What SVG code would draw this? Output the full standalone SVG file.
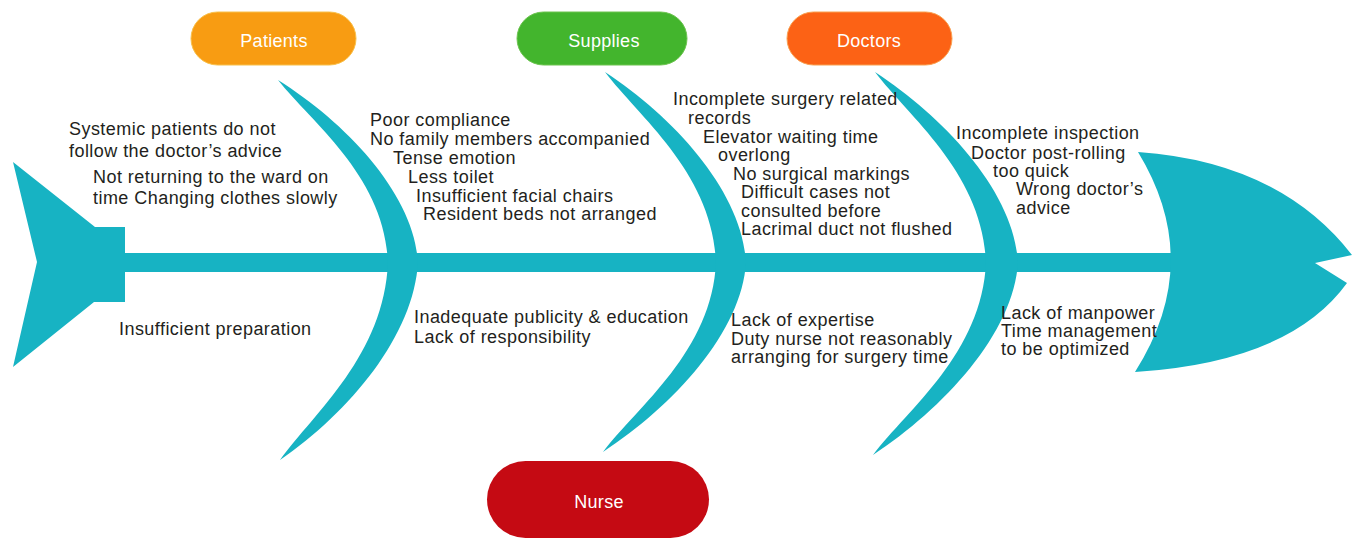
<svg xmlns="http://www.w3.org/2000/svg" width="1355" height="538" viewBox="0 0 1355 538">
  <style>
    .fish { fill: #17B3C3; }
    .pill-label { font-family: "Liberation Sans", Arial, sans-serif; font-size: 18px; letter-spacing: 0.3px; fill: #ffffff; text-anchor: middle; }
    .cause { font-family: "Liberation Sans", Arial, sans-serif; font-size: 18px; letter-spacing: 0.45px; fill: #231F20; }
  </style>
  <rect width="1355" height="538" fill="#ffffff"/>

  <!-- fish skeleton: tail, spine, head and the curved ribs -->
  <g id="connectors">
    <polygon id="tail" class="fish" points="13,162 95,227 125,227 125,302 94,302 13,367 37,262"/>
    <rect id="spine" class="fish" x="120" y="253" width="1055" height="19"/>
    <path id="head" class="fish" d="M1138,152 Q1280,162 1352,255 L1315,263 L1347,283 Q1290,362 1135,372 Q1205,262 1138,152 Z"/>
    <path id="rib-patients-nurse" class="fish" d="M278,80 C348,124 414,195 418,262 C414,335 350,412 280,460 C315,412 384,355 388,262 C384,176 313,124 278,80 Z"/>
    <path id="rib-supplies-nurse" class="fish" d="M605,72 C675,118 742,192 746,262 C742,332 673,406 603,452 C638,406 712,351 716,262 C712,173 640,118 605,72 Z"/>
    <path id="rib-doctors" class="fish" d="M875,72 C945,118 1014,192 1018,262 C1014,333 943,409 873,455 C908,409 982,353 986,262 C982,173 910,118 875,72 Z"/>
  </g>

  <!-- category labels -->
  <g id="node-patients">
    <rect x="191" y="12" width="165" height="53" rx="26.5" fill="#F89C12" stroke="#F8C04A" stroke-width="1"/>
    <text class="pill-label" x="274" y="47">Patients</text>
  </g>
  <g id="node-supplies">
    <rect x="517" y="12" width="170" height="53" rx="26.5" fill="#43B52D" stroke="#6CC44F" stroke-width="1"/>
    <text class="pill-label" x="604" y="47">Supplies</text>
  </g>
  <g id="node-doctors">
    <rect x="787" y="12" width="165" height="53" rx="26.5" fill="#FC6215" stroke="#F9A050" stroke-width="1"/>
    <text class="pill-label" x="869" y="47">Doctors</text>
  </g>
  <g id="node-nurse">
    <rect x="487" y="461" width="222" height="77" rx="38.5" fill="#C50A13"/>
    <text class="pill-label" x="599" y="508">Nurse</text>
  </g>

  <!-- causes -->
  <g id="causes-patients-left">
    <text class="cause" x="69" y="135">Systemic patients do not</text>
    <text class="cause" x="69" y="157">follow the doctor’s advice</text>
    <text class="cause" x="93" y="183">Not returning to the ward on</text>
    <text class="cause" x="93" y="204">time Changing clothes slowly</text>
    <text class="cause" x="119" y="335">Insufficient preparation</text>
  </g>
  <g id="causes-patients-right">
    <text class="cause" x="370" y="126">Poor compliance</text>
    <text class="cause" x="370" y="145">No family members accompanied</text>
    <text class="cause" x="393" y="164">Tense emotion</text>
    <text class="cause" x="408" y="183">Less toilet</text>
    <text class="cause" x="416" y="202">Insufficient facial chairs</text>
    <text class="cause" x="423" y="220">Resident beds not arranged</text>
  </g>
  <g id="causes-nurse-1">
    <text class="cause" x="414" y="323">Inadequate publicity &amp; education</text>
    <text class="cause" x="414" y="343">Lack of responsibility</text>
  </g>
  <g id="causes-supplies">
    <text class="cause" x="673" y="105">Incomplete surgery related</text>
    <text class="cause" x="688" y="124">records</text>
    <text class="cause" x="703" y="143">Elevator waiting time</text>
    <text class="cause" x="718" y="161">overlong</text>
    <text class="cause" x="733" y="180">No surgical markings</text>
    <text class="cause" x="741" y="198">Difficult cases not</text>
    <text class="cause" x="741" y="217">consulted before</text>
    <text class="cause" x="741" y="235">Lacrimal duct not flushed</text>
  </g>
  <g id="causes-nurse-2">
    <text class="cause" x="731" y="326">Lack of expertise</text>
    <text class="cause" x="731" y="345">Duty nurse not reasonably</text>
    <text class="cause" x="731" y="363">arranging for surgery time</text>
  </g>
  <g id="causes-doctors">
    <text class="cause" x="956" y="139">Incomplete inspection</text>
    <text class="cause" x="971" y="159">Doctor post-rolling</text>
    <text class="cause" x="993" y="177">too quick</text>
    <text class="cause" x="1016" y="195">Wrong doctor’s</text>
    <text class="cause" x="1016" y="214">advice</text>
  </g>
  <g id="causes-doctors-lower">
    <text class="cause" x="1001" y="319">Lack of manpower</text>
    <text class="cause" x="1001" y="337">Time management</text>
    <text class="cause" x="1001" y="355">to be optimized</text>
  </g>
</svg>
